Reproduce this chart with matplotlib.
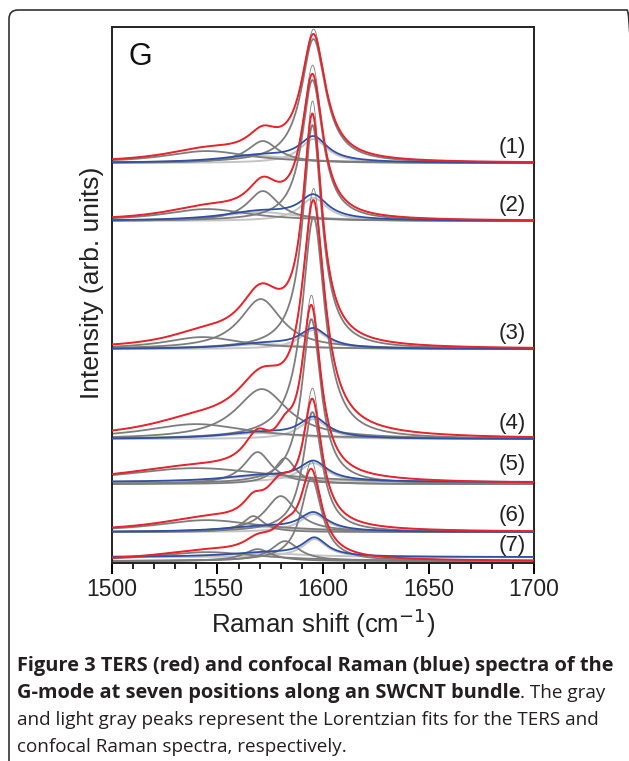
import numpy as np
import matplotlib
matplotlib.use('Agg')
from matplotlib import pyplot as plt
from matplotlib.patches import FancyBboxPatch
from matplotlib.transforms import IdentityTransform

# spectrum labels, top to bottom
labels = ['(1)', '(2)', '(3)', '(4)', '(5)', '(6)', '(7)']

# vertical offsets of each spectrum (arb. units)
ters_base = [400, 342, 214, 124, 79, 31, 2]
conf_base = [400, 342, 214, 124, 81, 31, 6]

# Lorentzian fits of the TERS spectra: (centre cm-1, height, half width)
ters_peaks = [
    [(1595.5, 124, 7.0), (1571.5, 22, 9), (1545, 12, 25)],
    [(1595.0, 141, 6.0), (1571.5, 30, 9), (1545, 12, 25)],
    [(1595.0, 224, 5.5), (1570.5, 50, 12), (1543, 12, 22)],
    [(1595.5, 222, 6.5), (1571.0, 50, 15), (1540, 15, 30)],
    [(1594.5, 165, 5.5), (1569.0, 32, 8), (1582, 26, 6), (1540, 16, 45)],
    [(1595.0, 120, 5.5), (1567.0, 16, 6), (1580, 36, 9), (1545, 12, 30)],
    [(1594.5, 83, 6.0), (1569.0, 12, 8), (1582, 20, 8), (1545, 9, 30)],
]
# how far the measured TERS peak tops stand above the fit
raw_excess = [5, 9, 13, 12, 10, 11, 8]

# Lorentzian fits of the confocal spectra
conf_peaks = [
    [(1595.5, 24, 8), (1570, 7, 22)],
    [(1595.5, 23, 8), (1570, 9, 22)],
    [(1595.5, 19, 8), (1572, 5, 20)],
    [(1595.5, 20, 8), (1570, 6, 22)],
    [(1595.5, 19, 8), (1570, 6, 22)],
    [(1595.5, 18, 8), (1570, 5, 22)],
    [(1596.0, 18, 7), (1572, 4, 22)],
]

# where the labels sit (same units as the offsets)
label_y = [416, 358, 230, 140, 99, 48, 18]

RED = '#e8232b'
BLUE = '#3050a5'
GRAY = '#7d7d7d'
LIGHT = '#c4c4c4'


def lorentz(x, c, a, w):
    return a * w ** 2 / ((x - c) ** 2 + w ** 2)


def main():
    fig = plt.figure(figsize=(6.29, 7.61), dpi=100)
    ax = fig.add_axes([0.178, 0.260, 0.671, 0.7045])
    x = np.linspace(1500, 1700, 2001)

    for i in range(len(labels)):
        # confocal fits (light gray)
        conf_sum = np.zeros_like(x)
        for c, a, w in conf_peaks[i]:
            y = lorentz(x, c, a, w)
            conf_sum += y
            ax.plot(x, conf_base[i] + y, color=LIGHT, lw=1.4, zorder=1)
        # TERS fits (gray)
        ters_sum = np.zeros_like(x)
        for c, a, w in ters_peaks[i]:
            y = lorentz(x, c, a, w)
            ters_sum += y
            ax.plot(x, ters_base[i] + y, color=GRAY, lw=1.3, zorder=2)
        c0 = ters_peaks[i][0][0]
        raw = ters_sum + lorentz(x, c0 + 0.5, raw_excess[i], 2.5)
        ax.plot(x, ters_base[i] + raw, color=GRAY, lw=0.6, zorder=3)
        ax.plot(x, conf_base[i] + conf_sum, color=BLUE, lw=1.3, zorder=4)
        ax.plot(x, ters_base[i] + ters_sum, color=RED, lw=1.4, zorder=5)
        ax.text(1696, label_y[i], labels[i], ha='right', va='center',
                fontsize=16, family='Liberation Sans', color='#222222')

    ax.text(1508, 506, 'G', ha='left', va='center', fontsize=22,
            family='Liberation Sans', color='#111111')

    ax.set_xlim(1500, 1700)
    ax.set_ylim(0, 536)
    ax.set_xticks(np.arange(1500, 1701, 50))
    ax.set_xticks(np.arange(1500, 1701, 10), minor=True)
    ax.set_yticks([])
    ax.tick_params(axis='x', which='major', direction='out', length=8,
                   width=1.4, labelsize=16.5, pad=3, labelcolor='#222222')
    ax.tick_params(axis='x', which='minor', direction='out', length=4.5,
                   width=1.2)
    for lab in ax.get_xticklabels():
        lab.set_family('Liberation Sans')
    for s in ax.spines.values():
        s.set_linewidth(1.4)
        s.set_color('#222222')
    ax.set_xlabel('Raman shift (cm$^{-1}$)', fontsize=18.5,
                  family='Liberation Sans', labelpad=4, color='#222222')
    ax.set_ylabel('Intensity (arb. units)', fontsize=19,
                  family='Liberation Sans', color='#222222')
    ax.yaxis.set_label_coords(-0.018, 0.522)

    # frame round the whole figure
    box = FancyBboxPatch((9, -30), 627, 781, boxstyle='round,pad=0,rounding_size=9',
                         transform=IdentityTransform(), fill=False,
                         edgecolor='#333333', lw=1.2)
    fig.patches.append(box)

    # caption
    bold = dict(fontsize=14.4, family='Open Sans', color='#231f20',
                va='center', weight='bold')
    reg = dict(fontsize=13.6, family='Open Sans', color='#231f20', va='center')
    fig.text(17 / 629, 1 - 666 / 761,
             'Figure 3 TERS (red) and confocal Raman (blue) spectra of the', **bold)
    t2 = fig.text(17 / 629, 1 - 693 / 761,
                  'G-mode at seven positions along an SWCNT bundle', **bold)
    r = fig.canvas.get_renderer()
    bb = t2.get_window_extent(renderer=r)
    fig.text(bb.x1 / fig.bbox.width, 1 - 693 / 761, '. The gray', **reg)
    fig.text(17 / 629, 1 - 720 / 761,
             'and light gray peaks represent the Lorentzian fits for the TERS and', **reg)
    fig.text(17 / 629, 1 - 747 / 761, 'confocal Raman spectra, respectively.', **reg)

    fig.savefig('out.png', dpi=100)


if __name__ == '__main__':
    main()
